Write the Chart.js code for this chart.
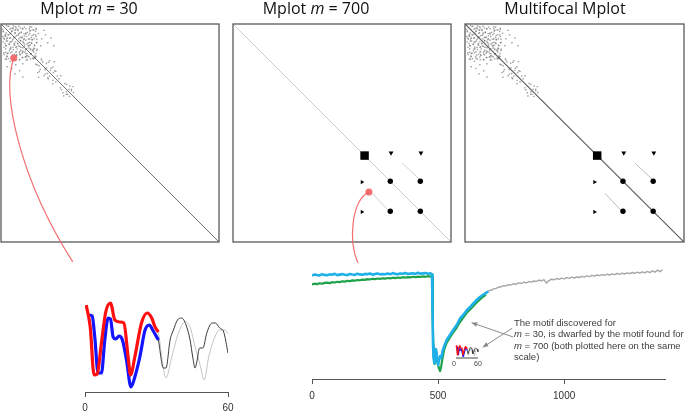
<!DOCTYPE html>
<html>
<head>
<meta charset="utf-8">
<script src="https://cdn.jsdelivr.net/npm/chart.js@4/dist/chart.umd.min.js"></script>
<style>
  body { margin: 0; background: #fff; width: 685px; height: 411px; position: relative; overflow: hidden; }
  canvas { position: absolute; }
</style>
</head>
<body>
<canvas id="p1" width="230" height="270" style="left:0;top:0"></canvas>
<canvas id="p2" width="230" height="270" style="left:228px;top:0"></canvas>
<canvas id="p3" width="225" height="270" style="left:460px;top:0"></canvas>
<canvas id="motif30" width="190" height="121" style="left:60px;top:290px"></canvas>
<canvas id="series" width="395" height="156" style="left:290px;top:255px"></canvas>
<script>
// ---- Mplot data (matrix index units) ----
var matrixSize = 1400;
// m = 30 Mplot: scattered weak matches, one triangle (mirrored when drawn)
var noise30 = [
  [15,45],[22,98],[30,160],[38,210],[45,70],[52,130],[60,185],[66,28],[72,110],[80,225],
  [88,60],[95,150],[102,200],[108,35],[115,95],[122,175],[130,55],[136,215],[144,120],[150,20],
  [158,165],[164,80],[172,205],[180,140],[186,45],[194,190],[200,100],[208,225],[215,160],[222,70],
  [228,120],[18,185],[26,125],[34,58],[48,222],[56,92],[64,160],[74,200],[84,135],[92,18],
  [100,75],[112,140],[118,230],[126,108],[140,175],[148,62],[156,210],[168,128],[176,98],[190,160],
  [205,38],[218,205],[12,80],[42,110],[70,48],[96,184],[134,88],[162,232],[184,118],[210,180],
  [10,35],[25,75],[33,140],[40,190],[50,15],[58,118],[68,210],[76,150],[82,90],[90,40],
  [98,230],[106,125],[114,65],[120,195],[128,150],[138,30],[146,100],[154,180],[160,58],[170,230],
  [178,70],[188,135],[196,20],[204,165],[212,95],[220,215],[226,35],[14,115],[28,225],[36,95],
  [54,170],[62,60],[78,30],[86,195],[104,160],[124,85],[152,140],[166,190],[182,30],[198,125],
  [216,140],[224,190],
  [240,60],[262,95],[285,70],[300,120],[320,90],[340,140],[255,140],[275,40],
  [232,262],[246,305],[258,224],[276,332],[292,252],[304,352],[322,284],[336,312],[352,372],
  [242,342],[282,292],[312,236],[362,334],[332,384],[268,244],[298,318],[345,300],
  [388,422],[410,382],[428,452],[402,462],[452,420],[442,398],[420,436],[465,440]
];
// m = 700 Mplot: motif blobs
var blobSquare = [[845, 845]];
var blobDots = [[1010, 1010], [1203, 1203], [1203, 1010], [1010, 1203]];
var blobTriTop = [[1015, 828], [1207, 828]];
var blobTriLeft = [[828, 1015], [828, 1207]];
var offDiag = [[1088, 895], [1200, 1000]];
var pair30 = [82, 218];
var pair700 = [873, 1079];

// ---- m = 30 motif (x = sample index) ----
var motifTicks = [0, 60];
var redX = [0.5, 2.2, 3.8, 5.1, 6.9, 8.7, 10.7, 12.5, 14.6, 16.3, 18.1, 19.1, 20.9, 23.7, 26.1, 28.0, 29.4, 30.8];
var redY = [8.7, 6.5, 1.7, 1.8, 4.9, 8.0, 8.9, 7.2, 7.0, 6.9, 3.5, 1.7, 3.5, 6.9, 7.9, 7.4, 6.5, 6.0];
var blueX = [1.7, 3.0, 4.1, 5.5, 6.9, 8.3, 9.7, 10.7, 11.8, 12.9, 14.3, 15.7, 17.4, 19.3, 20.9, 23.0, 25.2, 27.0, 28.4, 30.8];
var blueY = [7.7, 7.6, 5.5, 1.9, 1.9, 5.2, 7.4, 7.3, 5.5, 5.3, 5.6, 5.2, 3.2, 0.5, 1.5, 3.5, 6.2, 6.7, 6.2, 5.2];
var darkX = [30.8, 32.9, 34.0, 35.7, 37.1, 38.8, 40.6, 42.4, 44.1, 45.2, 46.2, 46.9, 48.1, 49.5, 51.1, 53.3, 54.7, 56.5, 58.2, 60];
var darkY = [5.2, 2.4, 2.4, 5.2, 6.2, 7.2, 7.4, 6.7, 5.2, 3.5, 2.4, 3.0, 4.4, 4.4, 5.9, 6.9, 6.9, 6.4, 6.0, 3.9];
var lightX = [30.8, 34.0, 36.4, 39.2, 42.0, 44.1, 46.2, 48.3, 50.0, 51.9, 54.0, 56.5, 58.9, 60];
var lightY = [6.0, 1.4, 3.5, 5.9, 7.0, 6.5, 4.5, 2.7, 1.2, 3.5, 5.2, 6.2, 6.2, 5.8];

// ---- full series (m = 700 motif) ----
var seriesTicks = [0, 500, 1000];
var plateauStep = 10;
var cyanPlateau = [
  103.4, 104.5, 103.9, 103.6, 104.8, 104.1, 103.7, 104.6, 104.3, 105.2,
  103.9, 104.4, 104.9, 104.2, 103.8, 105.0, 104.5, 104.1, 105.3, 104.6,
  104.2, 105.1, 104.7, 105.5, 104.4, 104.9, 105.6, 104.6, 105.0, 104.8,
  105.4, 104.7, 105.9, 105.1, 104.8, 105.5, 105.2, 106.0, 105.0, 105.4,
  105.8, 105.1, 106.2, 105.3, 105.6, 105.9, 105.2, 105.7
];
var greenPlateau = [
  94.5, 95.3, 94.9, 95.8, 95.2, 96.1, 96.4, 95.9, 96.8, 96.5,
  97.2, 96.9, 97.7, 97.3, 98.2, 97.8, 98.6, 98.3, 99.0, 98.7,
  99.4, 99.1, 99.9, 99.5, 100.2, 99.8, 100.5, 100.1, 100.7, 100.3,
  101.0, 100.6, 101.3, 100.9, 101.5, 101.1, 101.8, 101.3, 101.9, 101.6,
  102.2, 101.8, 102.4, 102.0, 102.6, 102.2, 102.8, 102.4
];
var cyanDropX = [476, 478, 480, 482, 485, 488, 491, 494, 497, 500, 504, 508, 513, 518, 526, 534, 547, 560, 574, 587, 600, 613, 627, 640, 653, 666, 680, 692, 699];
var cyanDropY = [104.5, 70, 35, 22, 16, 20, 30, 27, 17, 14, 19, 23, 21, 28, 34, 39, 44, 49, 54, 60.5, 64, 68.5, 72, 75.5, 79, 82, 84.5, 86.3, 87.5];
var greenDropX = [476, 479, 482, 486, 490, 494, 498, 503, 508, 512, 517, 524, 534, 547, 560, 574, 587, 600, 613, 627, 640, 653, 666, 680, 690];
var greenDropY = [102.3, 55, 24, 15, 22, 25, 17, 11, 8, 12, 20, 29, 36, 41.5, 46.5, 51.5, 57, 61.5, 66, 69.5, 73, 76.5, 79.5, 82.5, 84.3];
var grayStart = 680, grayStep = 10;
var grayTail = [
  85.0, 86.8, 88.2, 88.7, 90.1, 90.6, 91.8, 92.2, 93.3, 93.1,
  94.4, 94.0, 95.3, 94.8, 96.1, 95.5, 96.8, 96.2, 97.5, 96.9,
  98.0, 97.6, 98.8, 98.2, 99.3, 95.9, 98.4, 99.8, 99.2, 100.5,
  99.7, 100.9, 100.2, 101.3, 100.6, 101.8, 101.0, 102.2, 101.5, 102.7,
  101.9, 103.2, 102.3, 103.6, 102.8, 104.0, 103.3, 104.4, 103.6, 104.8,
  104.0, 105.1, 104.3, 105.5, 104.6, 105.8, 105.0, 106.1, 105.3, 106.5,
  105.6, 106.9, 105.9, 107.2, 106.2, 107.6, 106.4, 108.1, 106.8, 108.9, 107.3, 109.4
];

// inset placement of the m = 30 motif inside the series plot
var insetX0 = 571, insetXK = 1.45, insetY0 = 22, insetYK = 1.3;

var noteLines = [
  [['The motif discovered for', false]],
  [['m', true], [' = 30, is dwarfed by the motif found for', false]],
  [['m', true], [' = 700 (both plotted here on the same', false]],
  [['scale)', false]]
];

Chart.defaults.animation = false;
Chart.defaults.responsive = false;
Chart.defaults.plugins.legend.display = false;
Chart.defaults.plugins.tooltip.enabled = false;

function pts(xs, ys) { return xs.map(function (x, i) { return { x: x, y: ys[i] }; }); }
function pairs(list) { return list.map(function (p) { return { x: p[0], y: p[1] }; }); }
function mirrored(list) {
  var out = [];
  list.forEach(function (p) { out.push({ x: p[0], y: p[1] }); out.push({ x: p[1], y: p[0] }); });
  return out;
}
function drawRich(ctx, segs, x, y, size, family, color, center) {
  var total = 0;
  segs.forEach(function (s) { ctx.font = (s[1] ? 'italic ' : '') + size + 'px ' + family; total += ctx.measureText(s[0]).width; });
  var cx = center ? x - total / 2 : x;
  ctx.fillStyle = color; ctx.textAlign = 'left'; ctx.textBaseline = 'alphabetic';
  segs.forEach(function (s) {
    ctx.font = (s[1] ? 'italic ' : '') + size + 'px ' + family;
    ctx.fillText(s[0], cx, y);
    cx += ctx.measureText(s[0]).width;
  });
}

function mplot(id, o) {
  var ds = [];
  if (o.pair) ds.push({ data: pairs([o.pair]), pointRadius: 3.5, backgroundColor: '#f26d6d', borderWidth: 0 });
  if (o.blobs) {
    ds.push({ data: pairs(blobSquare), pointStyle: 'rect', pointRadius: 6, backgroundColor: '#000', borderWidth: 0 });
    ds.push({ data: pairs(blobDots), pointRadius: 2.7, backgroundColor: '#000', borderWidth: 0 });
    ds.push({ data: pairs(blobTriTop), pointStyle: 'triangle', rotation: 180, pointRadius: 2.8, backgroundColor: '#000', borderWidth: 0 });
    ds.push({ data: pairs(blobTriLeft), pointStyle: 'triangle', rotation: 90, pointRadius: 2.4, backgroundColor: '#000', borderWidth: 0 });
    ds.push({ data: pairs(offDiag), showLine: true, pointRadius: 0, borderColor: o.offColor, borderWidth: 1 });
    ds.push({ data: pairs(offDiag.map(function (p) { return [p[1], p[0]]; })), showLine: true, pointRadius: 0, borderColor: o.offColor, borderWidth: 1 });
  }
  if (o.noise) ds.push({ data: mirrored(noise30), pointStyle: 'rect', pointRadius: 1.0, backgroundColor: 'rgba(70,70,70,0.5)', borderWidth: 0 });
  ds.push({ data: [{ x: 0, y: 0 }, { x: matrixSize, y: matrixSize }], showLine: true, pointRadius: 0, borderColor: o.diagColor, borderWidth: o.diagWidth || 1 });

  var decor = {
    id: 'decor' + id,
    afterDraw: function (chart) {
      var ctx = chart.ctx, a = chart.chartArea;
      ctx.save();
      ctx.strokeStyle = '#5a5a5a'; ctx.lineWidth = 1.3;
      ctx.strokeRect(a.left, a.top, a.right - a.left, a.bottom - a.top);
      drawRich(ctx, o.title, a.left + o.titleX, 14, 16, '"Open Sans", sans-serif', '#111', true);
      if (o.curve) {
        var px = chart.scales.x.getPixelForValue(o.pair[0]);
        var py = chart.scales.y.getPixelForValue(o.pair[1]);
        var c = o.curve;
        ctx.strokeStyle = 'rgba(242,95,95,0.9)'; ctx.lineWidth = 1.2;
        ctx.beginPath();
        ctx.moveTo(px, py);
        ctx.bezierCurveTo(px + c[0][0], py + c[0][1], px + c[1][0], py + c[1][1], px + c[2][0], py + c[2][1]);
        ctx.stroke();
      }
      ctx.restore();
    }
  };
  var cv = document.getElementById(id);
  return new Chart(cv, {
    type: 'scatter',
    data: { datasets: ds },
    options: {
      devicePixelRatio: 1,
      layout: { autoPadding: false, padding: o.pad },
      scales: {
        x: { type: 'linear', display: false, min: 0, max: matrixSize },
        y: { type: 'linear', display: false, min: 0, max: matrixSize, reverse: true }
      }
    },
    plugins: [decor]
  });
}

mplot('p1', {
  title: [['Mplot ', false], ['m', true], [' = 30', false]], titleX: 88,
  pad: { left: 1, top: 24, right: 11, bottom: 28 },
  noise: true, diagColor: '#707070', pair: pair30,
  curve: [[-13, 37], [7, 122], [59, 204]]
});
mplot('p2', {
  title: [['Mplot ', false], ['m', true], [' = 700', false]], titleX: 83,
  pad: { left: 5, top: 24, right: 7, bottom: 28 },
  blobs: true, offColor: '#d0d0d0', diagColor: '#cfcfcf', pair: pair700,
  curve: [[-17, 8], [-21, 48], [-11, 71]]
});
mplot('p3', {
  title: [['Multifocal Mplot', false]], titleX: 100,
  pad: { left: 5, top: 24, right: 1, bottom: 28 },
  noise: true, blobs: true, offColor: '#bdbdbd', diagColor: '#5e5e5e', diagWidth: 1.2
});

function axisX(min, max, ticks, h, pad) {
  return {
    type: 'linear', min: min, max: max,
    afterBuildTicks: function (s) { s.ticks = ticks.map(function (v) { return { value: v }; }); },
    afterFit: function (s) { s.height = h; },
    grid: { drawOnChartArea: false, drawTicks: true, tickLength: 5, color: '#555', lineWidth: 1 },
    border: { display: true, color: '#555', width: 1 },
    ticks: { color: '#333', padding: pad, maxRotation: 0, autoSkip: false,
      font: { family: '"Liberation Sans", Arial, sans-serif', size: 10 },
      callback: function (v) { return String(v); } }
  };
}

new Chart(document.getElementById('motif30'), {
  type: 'line',
  data: { datasets: [
    { data: pts(redX, redY), borderColor: '#ff1010', borderWidth: 3.2 },
    { data: pts(blueX, blueY), borderColor: '#1414ff', borderWidth: 3.2 },
    { data: pts(darkX, darkY), borderColor: '#3a3a3a', borderWidth: 1 },
    { data: pts(lightX, lightY), borderColor: '#c4c4c4', borderWidth: 1 }
  ] },
  options: {
    devicePixelRatio: 1,
    layout: { autoPadding: false, padding: { left: 25, right: 22, top: 6, bottom: 0 } },
    elements: { point: { radius: 0 }, line: { cubicInterpolationMode: 'monotone', borderJoinStyle: 'round' } },
    scales: { x: axisX(0, 60, motifTicks, 19, 5), y: { display: false, min: 0, max: 9.6 } }
  }
});

function insetPts(xs, ys) {
  return xs.map(function (x, i) { return { x: insetX0 + x * insetXK, y: insetY0 + ys[i] * insetYK }; });
}
function stepPts(start, step, ys) { return ys.map(function (y, i) { return { x: start + i * step, y: y }; }); }

var seriesDecor = {
  id: 'seriesDecor',
  afterDraw: function (chart) {
    var ctx = chart.ctx, sx = chart.scales.x, sy = chart.scales.y;
    ctx.save();
    // inset axis
    var ax0 = sx.getPixelForValue(insetX0), ax1 = sx.getPixelForValue(insetX0 + 60 * insetXK);
    var ay = sy.getPixelForValue(insetY0 - 0.5);
    ctx.strokeStyle = '#444'; ctx.lineWidth = 1;
    ctx.beginPath(); ctx.moveTo(ax0, ay + 0.5); ctx.lineTo(ax1, ay + 0.5); ctx.stroke();
    ctx.fillStyle = '#444'; ctx.font = '7px "Liberation Sans", Arial, sans-serif';
    ctx.textAlign = 'center'; ctx.textBaseline = 'top';
    ctx.fillText('0', ax0 - 2, ay + 3);
    ctx.fillText('60', ax1, ay + 3);
    // note text
    var tx = sx.getPixelForValue(801);
    var base = [53, 41.7, 30.4, 19.1];
    noteLines.forEach(function (segs, i) {
      drawRich(ctx, segs, tx, sy.getPixelForValue(base[i]), 9.5, '"Liberation Sans", Arial, sans-serif', '#3c3c3c', false);
    });
    // arrows
    function arrow(x1, y1, x2, y2) {
      var p1x = sx.getPixelForValue(x1), p1y = sy.getPixelForValue(y1);
      var p2x = sx.getPixelForValue(x2), p2y = sy.getPixelForValue(y2);
      var ang = Math.atan2(p2y - p1y, p2x - p1x), L = 6;
      ctx.strokeStyle = '#8a8a8a'; ctx.fillStyle = '#8a8a8a'; ctx.lineWidth = 1;
      ctx.beginPath(); ctx.moveTo(p1x, p1y); ctx.lineTo(p2x, p2y); ctx.stroke();
      ctx.beginPath();
      ctx.moveTo(p2x, p2y);
      ctx.lineTo(p2x - L * Math.cos(ang - 0.4), p2y - L * Math.sin(ang - 0.4));
      ctx.lineTo(p2x - L * Math.cos(ang + 0.4), p2y - L * Math.sin(ang + 0.4));
      ctx.closePath(); ctx.fill();
    }
    arrow(798, 42, 633, 56.3);
    arrow(794, 50.7, 677, 31.7);
    ctx.restore();
  }
};

new Chart(document.getElementById('series'), {
  type: 'line',
  data: { datasets: [
    { data: insetPts(redX, redY), borderColor: '#ff1010', borderWidth: 1.3 },
    { data: insetPts(blueX, blueY), borderColor: '#1414ff', borderWidth: 1.3 },
    { data: insetPts(darkX, darkY), borderColor: '#3a3a3a', borderWidth: 0.8 },
    { data: insetPts(lightX, lightY), borderColor: '#b0b0b0', borderWidth: 0.8 },
    { data: stepPts(0, plateauStep, cyanPlateau).concat(pts(cyanDropX, cyanDropY)), borderColor: '#1fb0e8', borderWidth: 2.6 },
    { data: stepPts(0, plateauStep, greenPlateau).concat(pts(greenDropX, greenDropY)), borderColor: '#1ea24a', borderWidth: 2.2 },
    { data: stepPts(grayStart, grayStep, grayTail), borderColor: '#a6a6a6', borderWidth: 1.4 }
  ] },
  options: {
    devicePixelRatio: 1,
    layout: { autoPadding: false, padding: { left: 22, right: 20, top: 5, bottom: 0 } },
    elements: { point: { radius: 0 }, line: { tension: 0, borderJoinStyle: 'round' } },
    scales: { x: axisX(0, 1400, seriesTicks, 32, 6), y: { display: false, min: 0, max: 119 } }
  },
  plugins: [seriesDecor]
});
</script>
</body>
</html>
